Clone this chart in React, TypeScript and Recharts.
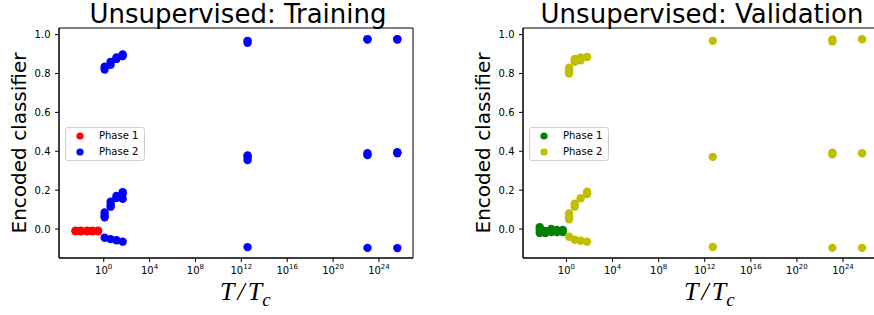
import React from 'react';
import { ScatterChart, Scatter, XAxis, YAxis, ReferenceArea, Legend, Customized } from 'recharts';

// ---------- Data (T/Tc on log axis, encoded classifier values) ----------
const xTicks = [1, 1e4, 1e8, 1e12, 1e16, 1e20, 1e24];
const yTicks = [0, 0.2, 0.4, 0.6, 0.8, 1.0];

// Training, Phase 1 (red)
const trainP1T = [0.0035, 0.0035, 0.01, 0.01, 0.035, 0.035, 0.1, 0.1, 0.32, 0.32];
const trainP1V = [-0.008, -0.012, -0.008, -0.012, -0.008, -0.012, -0.008, -0.012, -0.008, -0.012];

// Training, Phase 2 (blue)
const trainP2T = [
  1.2, 1.2, 1.2, 1.2, 1.2, 1.2,
  4, 4, 4, 4, 4, 4,
  13, 13, 13, 13, 13,
  45, 45, 45, 45, 45, 45,
  3.5e12, 3.5e12, 3.5e12, 3.5e12, 3.5e12, 3.5e12,
  1e23, 1e23, 1e23, 1e23, 1e23,
  4e25, 4e25, 4e25, 4e25, 4e25,
];
const trainP2V = [
  0.82, 0.835, 0.06, 0.07, 0.085, -0.045,
  0.845, 0.86, 0.115, 0.125, 0.14, -0.052,
  0.875, 0.882, 0.16, 0.17, -0.058,
  0.89, 0.898, 0.155, 0.18, 0.19, -0.065,
  0.958, 0.968, 0.355, 0.37, 0.378, -0.093,
  0.975, 0.977, 0.38, 0.39, -0.097,
  0.975, 0.977, 0.39, 0.395, -0.098,
];

// Validation, Phase 1 (green)
const valP1T = [0.0048, 0.0048, 0.0048, 0.015, 0.015, 0.048, 0.048, 0.15, 0.15, 0.48, 0.48];
const valP1V = [0.01, -0.005, -0.02, -0.01, -0.02, 0.0, -0.015, -0.005, -0.015, -0.005, -0.015];

// Validation, Phase 2 (olive yellow)
const valP2T = [
  1.7, 1.7, 1.7, 1.7, 1.7, 1.7, 1.7,
  5.2, 5.2, 5.2, 5.2, 5.2,
  17, 17, 17, 17,
  62, 62, 62, 62,
  5e12, 5e12, 5e12,
  1.2e23, 1.2e23, 1.2e23, 1.2e23, 1.2e23,
  4.5e25, 4.5e25, 4.5e25,
];
const valP2V = [
  0.80, 0.815, 0.83, 0.05, 0.065, 0.08, -0.04,
  0.86, 0.875, 0.115, 0.13, -0.055,
  0.868, 0.882, 0.158, -0.06,
  0.885, 0.18, 0.192, -0.065,
  0.968, 0.371, -0.092,
  0.965, 0.975, 0.385, 0.392, -0.097,
  0.976, 0.39, -0.097,
];

const zip = (t: number[], v: number[]) => t.map((tt, i) => ({ t: tt, v: v[i] }));

const SANS = 'DejaVu Sans';
const Y_DOMAIN: [number, number] = [-0.149, 1.034];

const XTick = (props: any) => {
  const { x, y, payload } = props;
  const exp = Math.round(Math.log10(payload.value));
  return (
    <text x={x} y={y + 10} textAnchor="middle" fontFamily={SANS} fontSize={10} fill="#000">
      10
      <tspan dy={-5} fontSize={7}>{exp}</tspan>
    </text>
  );
};

const YTick = (props: any) => {
  const { x, y, payload } = props;
  return (
    <text x={x - 2.5} y={y} dy="0.36em" textAnchor="end" fontFamily={SANS} fontSize={10} fill="#000">
      {Number(payload.value).toFixed(1)}
    </text>
  );
};

const renderLegend = (props: any) => {
  const { payload } = props;
  return (
    <div
      style={{
        width: 80,
        height: 34,
        boxSizing: 'border-box',
        border: '1px solid #d0d0d0',
        borderRadius: 3,
        background: 'rgba(255,255,255,0.8)',
        fontFamily: SANS,
        fontSize: 10,
        color: '#000',
        position: 'relative',
      }}
    >
      {(payload || []).map((e: any, i: number) => (
        <div key={i} style={{ position: 'absolute', left: 0, top: 1 + i * 16, height: 14, width: 78 }}>
          <svg width={20} height={14} style={{ position: 'absolute', left: 8, top: 0 }}>
            <circle cx={6} cy={7} r={3.6} fill={e.color} />
          </svg>
          <span style={{ position: 'absolute', left: 33, top: 0, lineHeight: '14px', whiteSpace: 'nowrap' }}>
            {e.value}
          </span>
        </div>
      ))}
    </div>
  );
};

const dot = (color: string) => (p: any) => <circle cx={p.cx} cy={p.cy} r={4.2} fill={color} />;

type PanelProps = {
  title: string;
  p1: { t: number; v: number }[];
  p2: { t: number; v: number }[];
  c1: string;
  c2: string;
  xDomain: [number, number];
  left: number;
};

const Panel = ({ title, p1, p2, c1, c2, xDomain, left }: PanelProps) => {
  const W = 437;
  const H = 315;
  return (
    <div style={{ position: 'absolute', left, top: 0, width: W, height: H }}>
      <ScatterChart width={W} height={H} margin={{ top: 28, right: 24, bottom: 0, left: 0 }}>
        <XAxis
          dataKey="t"
          type="number"
          scale="log"
          domain={xDomain}
          allowDataOverflow
          ticks={xTicks}
          interval={0}
          height={57}
          tickSize={4}
          tick={<XTick />}
          axisLine={{ stroke: '#000' }}
          tickLine={{ stroke: '#000' }}
          label={{
            content: (lp: any) => {
              const vb = lp.viewBox || { x: 59, y: 258 };
              return (
                <text
                  x={vb.x + 161}
                  y={vb.y + 42}
                  fontFamily="Liberation Serif"
                  fontStyle="italic"
                  fontSize={26}
                  fill="#000"
                >
                  <tspan letterSpacing={3}>T/</tspan>
                  <tspan>T</tspan>
                  <tspan fontSize={19} dy={5.5}>c</tspan>
                </text>
              );
            },
          }}
        />
        <YAxis
          dataKey="v"
          type="number"
          domain={Y_DOMAIN}
          allowDataOverflow
          ticks={yTicks}
          interval={0}
          width={59}
          tickSize={4}
          tick={<YTick />}
          axisLine={{ stroke: '#000' }}
          tickLine={{ stroke: '#000' }}
          label={{
            content: () => (
              <text
                x={19}
                y={143}
                transform="rotate(-90 19 143)"
                textAnchor="middle"
                dominantBaseline="central"
                fontFamily={SANS}
                fontSize={20}
                fill="#000"
              >
                Encoded classifier
              </text>
            ),
          }}
        />
        <ReferenceArea
          x1={xDomain[0]}
          x2={xDomain[1]}
          y1={Y_DOMAIN[0]}
          y2={Y_DOMAIN[1]}
          fill="none"
          fillOpacity={0}
          stroke="#000"
          strokeWidth={1}
          ifOverflow="visible"
        />
        <Scatter name="Phase 1" data={p1} fill={c1} shape={dot(c1)} isAnimationActive={false} />
        <Scatter name="Phase 2" data={p2} fill={c2} shape={dot(c2)} isAnimationActive={false} />
        <Legend
          layout="horizontal"
          verticalAlign="middle"
          align="center"
          content={renderLegend}
          wrapperStyle={{ left: 65, top: 127, width: 80, height: 34 }}
        />
        <Customized
          component={() => (
            <text x={238} y={23} textAnchor="middle" fontFamily={SANS} fontSize={26} fill="#000">
              {title}
            </text>
          )}
        />
      </ScatterChart>
    </div>
  );
};

export default function App() {
  return (
    <div
      style={{
        position: 'absolute',
        left: 0,
        top: 0,
        width: 874,
        height: 315,
        overflow: 'hidden',
        background: '#fff',
      }}
    >
      <Panel
        title="Unsupervised: Training"
        p1={zip(trainP1T, trainP1V)}
        p2={zip(trainP2T, trainP2V)}
        c1="#ff0000"
        c2="#0000ff"
        xDomain={[1.26e-4, 9.3e26]}
        left={0}
      />
      <Panel
        title="Unsupervised: Validation"
        p1={zip(valP1T, valP1V)}
        p2={zip(valP2T, valP2V)}
        c1="#008000"
        c2="#bfbf00"
        xDomain={[1.7e-4, 8.9e26]}
        left={464}
      />
    </div>
  );
}
